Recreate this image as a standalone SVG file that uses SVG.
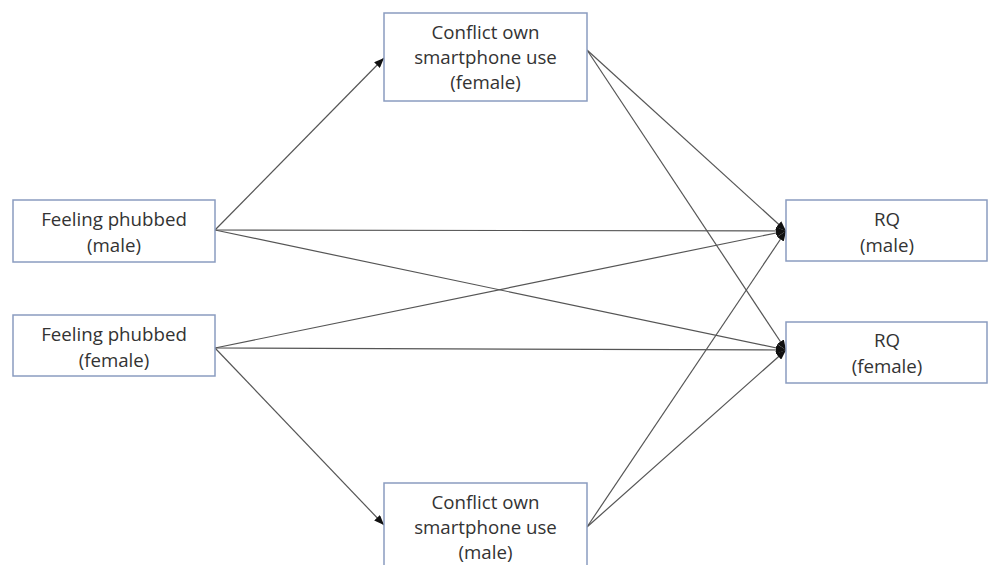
<svg xmlns="http://www.w3.org/2000/svg" width="988" height="565" viewBox="0 0 988 565">
<defs>
<marker id="ah" viewBox="0 0 10 8" refX="10" refY="4" markerWidth="10" markerHeight="8" markerUnits="userSpaceOnUse" orient="auto">
<path d="M0,0 L10,4 L0,8 Z" fill="#111"/>
</marker>
<style>
.box{fill:#fff;stroke:#8a9cc0;stroke-width:1.5}
.t{font-family:"Open Sans","Liberation Sans",sans-serif;font-size:18.7px;fill:#333;text-anchor:middle}
.c{stroke:#555;stroke-width:1.2;fill:none;marker-end:url(#ah)}
</style>
</defs>
<rect width="988" height="565" fill="#fff"/>
<g id="connectors">
<line class="c" x1="215" y1="230" x2="384" y2="58"/>
<line class="c" x1="215" y1="230" x2="786" y2="231"/>
<line class="c" x1="215" y1="230" x2="786" y2="350"/>
<line class="c" x1="215" y1="348" x2="786" y2="231"/>
<line class="c" x1="215" y1="348" x2="786" y2="350"/>
<line class="c" x1="215" y1="348" x2="384" y2="525"/>
<line class="c" x1="587" y1="50" x2="786" y2="231"/>
<line class="c" x1="587" y1="50" x2="786" y2="350"/>
<line class="c" x1="587" y1="527" x2="786" y2="231"/>
<line class="c" x1="587" y1="527" x2="786" y2="350"/>
</g>
<g id="conflict-female">
<rect class="box" x="384" y="13" width="203" height="88"/>
<text class="t" x="485.5" y="39">Conflict own</text>
<text class="t" x="485.5" y="64">smartphone use</text>
<text class="t" x="485.5" y="89">(female)</text>
</g>
<g id="phubbed-male">
<rect class="box" x="13" y="200" width="202" height="62"/>
<text class="t" x="114" y="226">Feeling phubbed</text>
<text class="t" x="114" y="252">(male)</text>
</g>
<g id="phubbed-female">
<rect class="box" x="13" y="315" width="202" height="61"/>
<text class="t" x="114" y="341">Feeling phubbed</text>
<text class="t" x="114" y="367">(female)</text>
</g>
<g id="rq-male">
<rect class="box" x="786" y="200" width="201" height="61"/>
<text class="t" x="887" y="226">RQ</text>
<text class="t" x="887" y="252">(male)</text>
</g>
<g id="rq-female">
<rect class="box" x="786" y="322" width="201" height="61"/>
<text class="t" x="887" y="347">RQ</text>
<text class="t" x="887" y="373">(female)</text>
</g>
<g id="conflict-male">
<rect class="box" x="384" y="483" width="203" height="100"/>
<text class="t" x="485.5" y="509">Conflict own</text>
<text class="t" x="485.5" y="534">smartphone use</text>
<text class="t" x="485.5" y="559">(male)</text>
</g>
</svg>
